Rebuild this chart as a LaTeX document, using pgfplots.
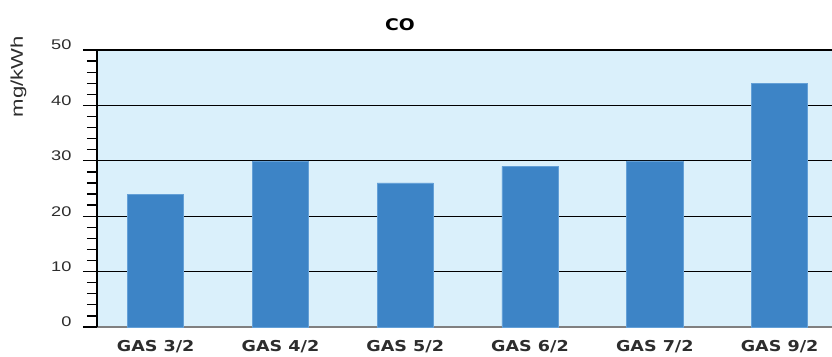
\documentclass[border=0pt]{standalone}
\usepackage{fontspec}
\setmainfont{Liberation Sans}[FakeStretch=1.3]
\newfontfamily\heavy{DejaVu Sans}[FakeStretch=1.17]
\usepackage{pgfplots}
\pgfplotsset{compat=1.18}
\definecolor{bgblue}{RGB}{218,240,251}
\definecolor{barblue}{RGB}{61,132,198}
\definecolor{baredge}{RGB}{100,160,215}
\definecolor{txt}{RGB}{45,45,45}
\begin{document}
\begin{tikzpicture}[x=1pt,y=1pt]
\path[use as bounding box] (0,0) rectangle (832,356);
\begin{axis}[
  at={(97pt,29pt)}, anchor=south west,
  scale only axis, width=735pt, height=277pt,
  xmin=-0.47, xmax=5.42, ymin=0, ymax=50,
  xtick={0,1,2,3,4,5},
  xticklabels={GAS 3/2,GAS 4/2,GAS 5/2,GAS 6/2,GAS 7/2,GAS 9/2},
  ytick={0,10,20,30,40,50},
  minor y tick num=4,
  tick align=outside,
  major tick length=14pt, minor tick length=10pt,
  every tick/.style={black, line width=1.3pt},
  major x tick style={draw=none},
  axis x line*=bottom, axis y line*=left, axis line style={-},
  x axis line style={draw=gray, line width=2.5pt},
  y axis line style={draw=black, line width=1.6pt},
  ymajorgrids, grid style={black, line width=1.3pt},
  axis background/.style={fill=bgblue},
  /pgf/number format/assume math mode=true,
  yticklabel style={font=\fontsize{14}{14}\selectfont, text=txt, anchor=east, yshift=5pt, xshift=-8pt},
  xticklabel style={font=\heavy\bfseries\fontsize{15}{15}\selectfont, text=txt, anchor=north, yshift=4pt},
  clip=false,
]
\addplot[ybar, bar width=0.45, fill=barblue, draw=baredge, line width=0.6pt]
  coordinates {(0,24) (1,30) (2,26) (3,29) (4,30) (5,44)};
\end{axis}
\node[font=\heavy\bfseries\fontsize{16}{16}\selectfont, text=black] at (400,331) {CO};
\node[font=\fontsize{17}{17}\selectfont, text=txt, rotate=90] at (18.5,279.5) {mg/kWh};
\end{tikzpicture}
\end{document}
